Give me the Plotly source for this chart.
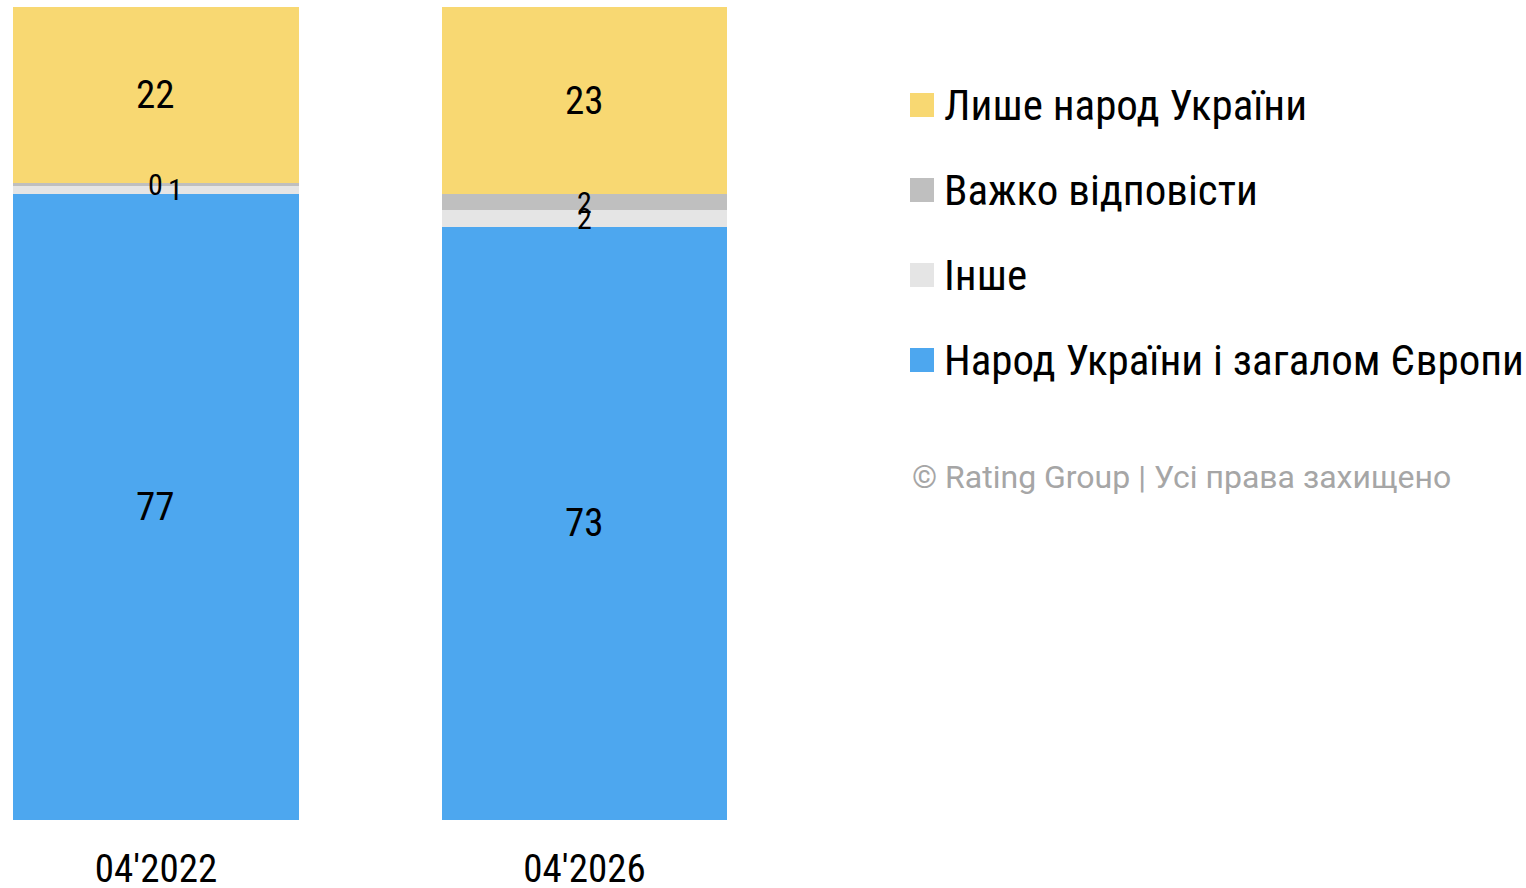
import plotly.graph_objects as go

# ---- data ----
categories = ["04'2022", "04'2026"]
series_names = ["Народ України і загалом Європи", "Інше", "Важко відповісти", "Лише народ України"]
europe_vals = [77, 73]
other_vals = [1, 2]
hard_vals = [0.3, 2]
only_ua_vals = [21.7, 23]
copyright_text = "© Rating Group | Усі права захищено"

series_vals = [europe_vals, other_vals, hard_vals, only_ua_vals]
colors = ["#4DA7EF", "#E5E5E5", "#BFBFBF", "#F8D872"]

COND = "Roboto Condensed, Liberation Sans Narrow, Roboto, sans-serif"
W, H = 1526, 888
T, B = 7, 68
px_per_unit = 428.5
x0 = -0.3337 - 13 / px_per_unit
x1 = x0 + W / px_per_unit
plot_h = H - T - B

fig = go.Figure()
for name, vals, col in zip(series_names, series_vals, colors):
    fig.add_trace(go.Bar(
        x=list(range(len(categories))), y=vals, name=name,
        marker=dict(color=col, line=dict(width=0)),
        width=0.6674, showlegend=False, hoverinfo="y+name",
    ))

# value labels at segment midpoints
annotations = []
for ci in range(len(categories)):
    base = 0
    for si, vals in enumerate(series_vals):
        v = vals[ci]
        mid = base + v / 2
        small = v < 5
        annotations.append(dict(
            x=ci, y=mid, xref="x", yref="y", text=f"{v:.0f}", showarrow=False,
            font=dict(family=COND, size=30 if small else 39, color="#000000"),
        ))
        base += v
# collision of the first bar's two small labels: the lower label is pushed right
annotations[1]["xshift"] = 20

# custom legend (top to bottom)
legend_order = [3, 2, 1, 0]
shapes = []
for k, si in enumerate(legend_order):
    cy = 105 + 85 * k
    yp = (H - B - cy) / plot_h
    sq = 12 / plot_h
    shapes.append(dict(type="rect", xref="paper", yref="paper",
                       x0=910 / W, x1=934 / W, y0=yp - sq, y1=yp + sq,
                       fillcolor=colors[si], line=dict(width=0)))
    annotations.append(dict(x=942 / W, y=yp, xref="paper", yref="paper",
                            xanchor="left", yanchor="middle", showarrow=False,
                            text=series_names[si],
                            font=dict(family=COND, size=43, color="#000000")))
annotations.append(dict(x=910 / W, y=(H - B - 477) / plot_h, xref="paper", yref="paper",
                        xanchor="left", yanchor="middle", showarrow=False,
                        text=copyright_text,
                        font=dict(family="Roboto, sans-serif", size=32, color="#A6A6A6")))

fig.update_layout(
    width=W, height=H, barmode="stack",
    margin=dict(l=0, r=0, t=T, b=B, pad=0, autoexpand=False),
    paper_bgcolor="white", plot_bgcolor="white",
    xaxis=dict(range=[x0, x1], tickvals=list(range(len(categories))), ticktext=categories,
               showgrid=False, zeroline=False, showline=False, ticks="",
               tickfont=dict(family=COND, size=39, color="#000000"),
               ticklabelstandoff=22, automargin=False),
    yaxis=dict(range=[0, 100], visible=False, automargin=False),
    annotations=annotations, shapes=shapes,
    showlegend=False,
)
fig.write_html("out.html", config={"displayModeBar": False},
               post_script="document.body.style.margin='0px';")
